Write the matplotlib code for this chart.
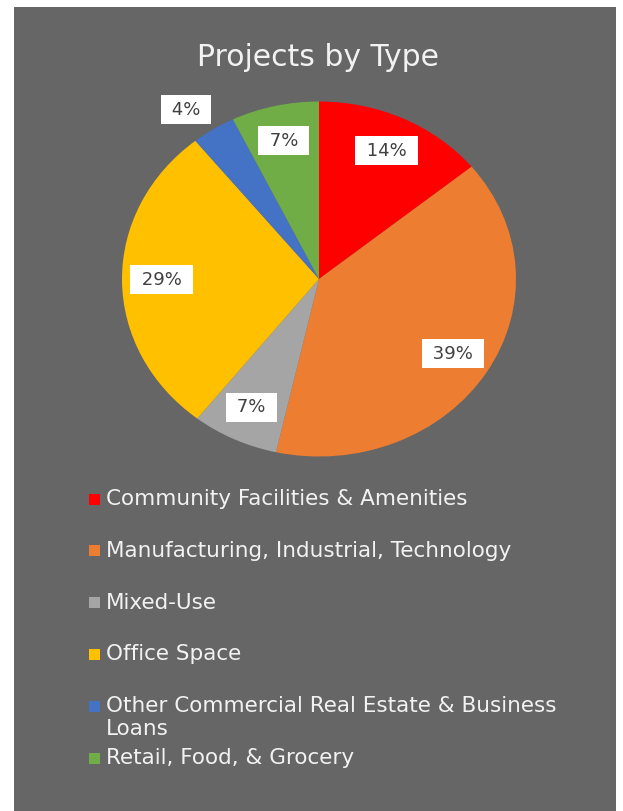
import numpy as np
import matplotlib
matplotlib.use('Agg')
from matplotlib import pyplot as plt
from matplotlib.patches import Rectangle

# data
categories = ['Community Facilities & Amenities',
              'Manufacturing, Industrial, Technology',
              'Mixed-Use',
              'Office Space',
              'Other Commercial Real Estate & Business\nLoans',
              'Retail, Food, & Grocery']
shares = [14.1, 39.4, 7.1, 28.6, 3.6, 7.2]
colors = ['#FF0000', '#ED7D31', '#A5A5A5', '#FFC000', '#4472C4', '#70AD47']
title = 'Projects by Type'

W, H = 623, 811
BG = '#666666'
TXT = '#F2F2F2'

fig = plt.figure(figsize=(W / 100, H / 100), dpi=100)
fig.patch.set_facecolor('white')
fig.patches.append(Rectangle((14 / W, 0), (616 - 14) / W, (811 - 7) / H,
                             transform=fig.transFigure, facecolor=BG,
                             edgecolor='none', zorder=-10))

fig.text(318 / W, 1 - 58 / H, title, ha='center', va='center',
         fontsize=21.5, color=TXT)

# pie is slightly wider than tall in the reference
cx, cy, rx, ry = 319, 279, 197, 177.5
ax = fig.add_axes([(cx - rx) / W, (H - cy - ry) / H, 2 * rx / W, 2 * ry / H])
wedges, _ = ax.pie(shares, colors=colors, startangle=90, counterclock=False,
                   wedgeprops=dict(linewidth=0))
ax.set_aspect('auto')
ax.set_xlim(-1, 1)
ax.set_ylim(-1, 1)
ax.axis('off')

box = dict(boxstyle='square,pad=0.3', facecolor='white', edgecolor='none')
for w, v in zip(wedges, shares):
    mid = np.deg2rad((w.theta1 + w.theta2) / 2)
    c, s = np.cos(mid), np.sin(mid)
    if v < 5:
        # small slice: label sits outside, corner against the rim
        ax.text(1.07 * c, 1.07 * s, f' {v:.0f}% ',
                ha='right' if c < 0 else 'left',
                va='bottom' if s > 0 else 'top',
                fontsize=13, color='#404040', bbox=box, clip_on=False)
    else:
        ax.text(0.8 * c, 0.8 * s, f' {v:.0f}% ', ha='center', va='center',
                fontsize=13, color='#404040', bbox=box, clip_on=False)

# legend, one slot per entry like Excel
lx, ly0, step, sq = 94.5, 499, 51.8, 11
for i, (lab, c) in enumerate(zip(categories, colors)):
    y = ly0 + i * step
    fig.patches.append(Rectangle(((lx - sq / 2) / W, 1 - (y + sq / 2) / H),
                                 sq / W, sq / H, transform=fig.transFigure,
                                 facecolor=c, edgecolor='none'))
    fig.text(106 / W, 1 - (y - 10) / H, lab, ha='left', va='top',
             fontsize=15.5, color=TXT, linespacing=1.2)

fig.savefig('out.png', dpi=100)
